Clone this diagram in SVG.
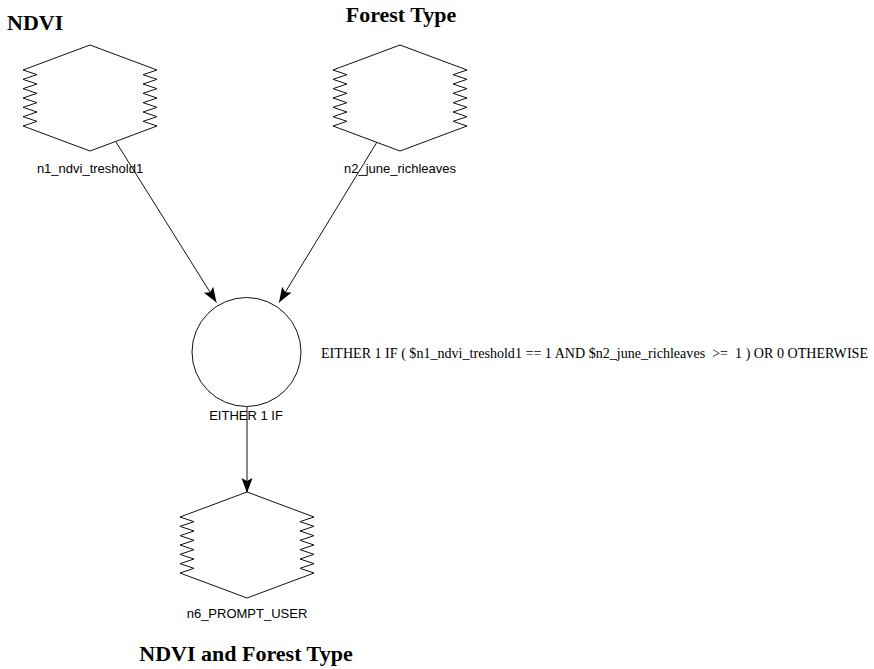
<svg xmlns="http://www.w3.org/2000/svg" xmlns:xlink="http://www.w3.org/1999/xlink" width="874" height="669" viewBox="0 0 874 669">
  <style>
    .shape { fill: #ffffff; stroke: #111111; stroke-width: 1; }
    .edge { fill: none; stroke: #111111; stroke-width: 1; }
    .lbl { font-family: "Liberation Sans", Arial, sans-serif; font-size: 13px; fill: #000000; text-anchor: middle; }
    .title { font-family: "Liberation Serif", "Times New Roman", serif; font-size: 22px; font-weight: bold; fill: #000000; }
    .expr { font-family: "Liberation Serif", "Times New Roman", serif; font-size: 14px; fill: #000000; white-space: pre; }
  </style>
  <defs>
    <path id="hex" class="shape" d="M0,-53 L67,-28 L53,-23.33 L67,-18.67 L53,-14 L67,-9.33 L53,-4.67 L67,0 L53,4.67 L67,9.33 L53,14 L67,18.67 L53,23.33 L67,28 L0,53 L-67,28 L-53,23.33 L-67,18.67 L-53,14 L-67,9.33 L-53,4.67 L-67,0 L-53,-4.67 L-67,-9.33 L-53,-14 L-67,-18.67 L-53,-23.33 L-67,-28 Z"/>
    <marker id="arrow" markerUnits="userSpaceOnUse" markerWidth="16" markerHeight="12" refX="15" refY="5.5" orient="auto">
      <path d="M0,0 L15,5.5 L0,11 L3,5.5 Z" fill="#000000"/>
    </marker>
  </defs>
  <rect x="0" y="0" width="874" height="669" fill="#ffffff"/>

  <g id="titles">
    <text class="title" x="7" y="30">NDVI</text>
    <text class="title" x="401" y="22" text-anchor="middle">Forest Type</text>
    <text class="title" x="246" y="661" text-anchor="middle">NDVI and Forest Type</text>
  </g>

  <g id="connectors">
    <line class="edge" x1="116" y1="142" x2="216.5" y2="302.5" marker-end="url(#arrow)"/>
    <line class="edge" x1="377" y1="142" x2="279" y2="302.5" marker-end="url(#arrow)"/>
    <line class="edge" x1="247" y1="407" x2="247" y2="493" marker-end="url(#arrow)"/>
  </g>

  <g id="n1_ndvi_treshold1">
    <use xlink:href="#hex" href="#hex" x="90" y="98"/>
    <text class="lbl" x="90" y="173">n1_ndvi_treshold1</text>
  </g>

  <g id="n2_june_richleaves">
    <use xlink:href="#hex" href="#hex" x="400" y="98"/>
    <text class="lbl" x="400" y="173">n2_june_richleaves</text>
  </g>

  <g id="either_1_if">
    <circle class="shape" cx="246.5" cy="352" r="54.5"/>
    <text class="lbl" x="246" y="420">EITHER 1 IF</text>
    <text class="expr" x="321" y="358" textLength="547" lengthAdjust="spacingAndGlyphs">EITHER 1 IF ( $n1_ndvi_treshold1 == 1 AND $n2_june_richleaves  &gt;=  1 ) OR 0 OTHERWISE</text>
  </g>

  <g id="n6_PROMPT_USER">
    <use xlink:href="#hex" href="#hex" x="247" y="545"/>
    <text class="lbl" x="247" y="618">n6_PROMPT_USER</text>
  </g>
</svg>
